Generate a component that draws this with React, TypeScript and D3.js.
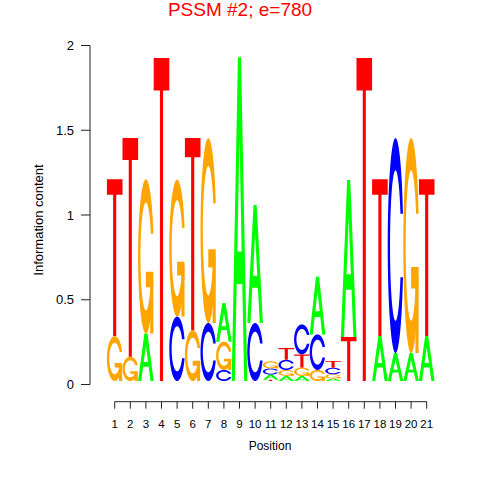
import React from "react";
import * as d3 from "d3";

const positions = [1, 2, 3, 4, 5, 6, 7, 8, 9, 10, 11, 12, 13, 14, 15, 16, 17, 18, 19, 20, 21];
const letters = ["A", "C", "G", "T"];
const heightA = [0, 0, 0.28, 0, 0, 0, 0, 0.228, 1.91, 0.696, 0.03, 0.03, 0.03, 0.34, 0.015, 0.926, 0, 0.265, 0.165, 0.165, 0.265];
const heightC = [0, 0, 0, 0, 0.38, 0, 0.342, 0.065, 0, 0.342, 0.036, 0.06, 0.177, 0.21, 0.038, 0, 0, 0, 1.268, 0, 0];
const heightG = [0.265, 0.143, 0.91, 0, 0.808, 0.3, 1.09, 0.167, 0, 0, 0.042, 0.035, 0.05, 0.065, 0.025, 0, 0, 0, 0, 1.268, 0];
const heightT = [0.926, 1.29, 0, 1.905, 0, 1.133, 0, 0, 0, 0, 0.008, 0.07, 0.077, 0, 0.04, 0.26, 1.905, 0.926, 0, 0, 0.926];
const yTicks = [0, 0.5, 1, 1.5, 2];
const yTickLabels = ["0", "0.5", "1", "1.5", "2"];
const colors: Record<string, string> = { A: "#00FF00", C: "#0000FF", G: "#FFA500", T: "#FF0000" };

type Poly = { pts: [number, number][]; white?: boolean };

function cShape(): [number, number][] {
  const n = 100;
  const a1 = d3.range(n).map((i) => 0.3 + Math.PI / 2 + ((Math.PI - (0.3 + Math.PI / 2)) * i) / (n - 1));
  const a2 = d3.range(n).map((i) => Math.PI + ((0.5 * Math.PI) * i) / (n - 1));
  const xl1 = a1.map((a) => 0.5 + 0.5 * Math.sin(a));
  const yl1 = a1.map((a) => 0.5 + 0.5 * Math.cos(a));
  const xl2 = a2.map((a) => 0.5 + 0.5 * Math.sin(a));
  const yl2 = a2.map((a) => 0.5 + 0.5 * Math.cos(a));
  const xl = xl1.concat(xl2);
  const yl = yl1.concat(yl2);
  const x = xl.concat(xl.slice().reverse());
  const y = yl.concat(yl.slice().reverse().map((v) => 1 - v));
  const maxY = d3.max(yl1) as number;
  let xi1 = a1.map((a) => 0.5 + 0.35 * Math.sin(a));
  let yi1 = a1.map((a) => 0.5 + 0.35 * Math.cos(a));
  const keep = yi1.map((v) => v <= maxY);
  xi1 = xi1.filter((_, i) => keep[i]);
  yi1 = yi1.filter((_, i) => keep[i]);
  yi1[0] = maxY;
  const xi2 = a2.map((a) => 0.5 + 0.35 * Math.sin(a));
  const yi2 = a2.map((a) => 0.5 + 0.35 * Math.cos(a));
  const xi = xi1.concat(xi2);
  const yi = yi1.concat(yi2);
  const x1 = xi.concat(xi.slice().reverse());
  const y1 = yi.concat(yi.slice().reverse().map((v) => 1 - v));
  const fx = x.concat(x1.slice().reverse());
  const fy = y.concat(y1.slice().reverse());
  return fx.map((v, i) => [v, fy[i]] as [number, number]);
}

function glyph(letter: string): Poly[] {
  if (letter === "A") {
    return [
      { pts: [[0, 0], [0.4, 1], [0.6, 1], [1, 0], [0.8, 0], [0.68, 0.3], [0.32, 0.3], [0.2, 0]] },
      { pts: [[0.36, 0.4], [0.5, 0.75], [0.64, 0.4]], white: true },
    ];
  }
  if (letter === "T") {
    return [{ pts: [[0, 1], [1, 1], [1, 0.9], [0.6, 0.9], [0.6, 0], [0.4, 0], [0.4, 0.9], [0, 0.9]] }];
  }
  if (letter === "C") return [{ pts: cShape() }];
  const r1 = 0.5 + 0.5 * Math.cos(0.3);
  return [
    { pts: cShape() },
    { pts: [[r1, 0.4], [0.5, 0.4], [0.5, 0.3], [r1 - 0.2, 0.3], [r1 - 0.2, 0], [r1, 0], [r1, 0.4]] },
  ];
}

export default function App() {
  const width = 480;
  const height = 480;
  const x = d3.scaleLinear().domain([1, 21]).range([114.7, 426.7]);
  const y = d3.scaleLinear().domain([0, 2]).range([384.5, 45.5]);
  const base = 3.5;
  const axisX = 90;
  const axisY = 401.7;
  const font = "Liberation Sans, Arial, Helvetica, sans-serif";
  const table: Record<string, number[]> = { A: heightA, C: heightC, G: heightG, T: heightT };

  const paths: JSX.Element[] = [];
  positions.forEach((p, j) => {
    const stack = letters
      .map((l) => ({ l, h: table[l][j] }))
      .filter((d) => d.h > 0)
      .sort((a, b) => a.h - b.h);
    let cum = 0;
    stack.forEach((d) => {
      const x0 = x(p - 0.5);
      const x1 = x(p + 0.5);
      const yb = y(cum) - base;
      const yt = y(cum + d.h) - base;
      glyph(d.l).forEach((poly, k) => {
        const dstr =
          poly.pts
            .map(([u, v], i) => `${i === 0 ? "M" : "L"}${(x0 + (x1 - x0) * u).toFixed(2)},${(yb + (yt - yb) * v).toFixed(2)}`)
            .join("") + "Z";
        paths.push(<path key={`${p}-${d.l}-${k}`} d={dstr} fill={poly.white ? "#FFFFFF" : colors[d.l]} />);
      });
      cum += d.h;
    });
  });

  return (
    <svg width={width} height={height} style={{ position: "absolute", left: 0, top: 0 }} fontFamily={font}>
      <rect width={width} height={height} fill="#FFFFFF" />
      <text x={240} y={16} textAnchor="middle" fontSize={19} fill="#FF0000">PSSM #2; e=780</text>
      {paths}
      <line x1={axisX} x2={axisX} y1={y(0)} y2={y(2)} stroke="#222" strokeWidth={1} />
      {yTicks.map((t, i) => (
        <g key={t}>
          <line x1={axisX - 9} x2={axisX} y1={y(t)} y2={y(t)} stroke="#222" />
          <text x={74} y={y(t) + 4.7} textAnchor="end" fontSize={13} fill="#000">{yTickLabels[i]}</text>
        </g>
      ))}
      <line x1={x(1)} x2={x(21)} y1={axisY} y2={axisY} stroke="#222" />
      {positions.map((p) => (
        <g key={p}>
          <line x1={x(p)} x2={x(p)} y1={axisY} y2={axisY + 7} stroke="#222" />
          <text x={x(p)} y={427.5} textAnchor="middle" fontSize={11.5} fill="#000">{p}</text>
        </g>
      ))}
      <text x={270} y={449.5} textAnchor="middle" fontSize={12} fill="#000">Position</text>
      <text transform={`translate(43,220) rotate(-90)`} textAnchor="middle" fontSize={13} fill="#000">Information content</text>
    </svg>
  );
}
